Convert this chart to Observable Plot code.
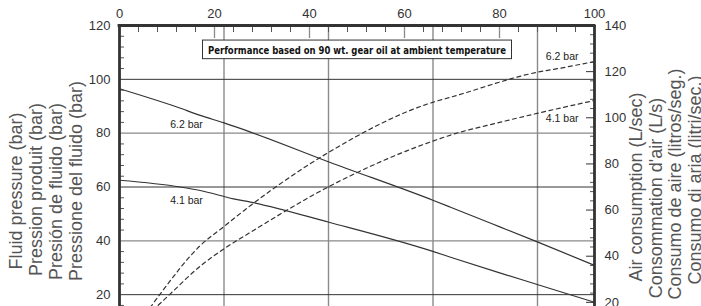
<!DOCTYPE html>
<html>
<head>
<meta charset="utf-8">
<script src="https://cdn.jsdelivr.net/npm/d3@7"></script>
<script src="https://cdn.jsdelivr.net/npm/@observablehq/plot@0.6"></script>
<style>
  html, body { margin: 0; padding: 0; background: #fff; }
  #chart { width: 701px; height: 306px; overflow: hidden; }
</style>
</head>
<body>
<div id="chart"></div>
<script>
// ---------- data ----------
const flowTicks = [0, 20, 40, 60, 80, 100];
const pressureTicks = [20, 40, 60, 80, 100, 120];
const airTicks = [20, 40, 60, 80, 100, 120, 140];
const gridFlow = [22, 44, 66, 88];
const pressureGrid = [20, 40, 60, 80, 100];

// fluid pressure (bar) vs flow
const fluid62 = [[0, 96.5], [12.1, 89.7], [17, 86.6], [22, 83.8], [27.6, 80.4], [44.1, 69.3], [66.1, 55.0], [69.7, 52.5], [80.2, 45.1], [88.1, 39.5], [100, 30.9]];
const fluid41 = [[0, 62.5], [12.8, 60], [17, 58.7], [24, 55.6], [27.6, 54.4], [44.1, 46.9], [66.1, 36.0], [69.7, 33.9], [80.2, 28], [88.1, 23.7], [100, 17.2]];
// air consumption (L/sec) vs flow
const air62 = [[5.5, 15], [8.6, 23.7], [17, 44.6], [22, 52.9], [27.6, 62], [44.1, 85.1], [66.1, 106.8], [69.7, 108.9], [88.1, 119.8], [92.8, 121.5], [100, 124.4]];
const air41 = [[7, 16.5], [10.7, 23.7], [17, 35.7], [22, 43.2], [27.6, 50.4], [44.1, 70.2], [66.1, 90], [69.7, 92.5], [80.2, 98.1], [88.1, 102], [100, 107.5]];

const fluidLabels = [["6.2 bar", 14.1, 83.3], ["4.1 bar", 14.1, 55.0]];
const airLabels = [["6.2 bar", 93.2, 126.6], ["4.1 bar", 93.2, 99.6]];

const note = "Performance based on 90 wt. gear oil at ambient temperature";
const leftTitles = ["Fluid pressure (bar)", "Pression produit (bar)", "Presión de fluido (bar)", "Pressione del fluido (bar)"];
const rightTitles = ["Air consumption (L/sec)", "Consommation d'air (L/s)", "Consumo de aire (litros/seg.)", "Consumo di aria (litri/sec.)"];

// ---------- helpers ----------
const leftMax = 120, rightMax = 140;
const toLeft = v => v * leftMax / rightMax;
const range = (a, b, s) => d3.range(a, b + 1e-9, s);
const leftMinor = range(4, 116, 4).filter(d => d % 20 !== 0);
const rightMinor = range(24, 136, 4).filter(d => d % 20 !== 0).map(toLeft);
const topMinor = range(4, 96, 4).filter(d => d % 20 !== 0);

const titleFont = "'Liberation Sans', Arial, Helvetica, sans-serif";
const leftTitleDx = [-103, -83, -63, -43];
const leftTitleDy = [25, 23.5, 25.5, 15];
const rightTitleDx = [42, 61.5, 81, 100.5];
const rightTitleDy = [21, 32, 18, 14];

const darkGrid = pressureGrid.filter(d => (d / 20) % 2 === 1);
const lightGrid = pressureGrid.filter(d => (d / 20) % 2 === 0);

const svg = Plot.plot({
  width: 701,
  height: 306,
  marginTop: 25,
  marginLeft: 119,
  marginRight: 107,
  marginBottom: 0,
  style: { fontFamily: titleFont, fontSize: "13px", color: "#333", background: "#fff", overflow: "hidden" },
  x: { domain: [0, 100] },
  y: { domain: [0, 120], range: [348, 25] },
  marks: [
    // grid
    Plot.ruleX(gridFlow, { stroke: "#8a8a8a", strokeWidth: 1.4 }),
    Plot.ruleY(lightGrid, { stroke: "#8a8a8a", strokeWidth: 1.4 }),
    Plot.ruleY(darkGrid, { stroke: "#333", strokeWidth: 1 }),
    // inner ticks
    Plot.axisY({ ticks: leftMinor, anchor: "left", tickSize: -5, fill: "none", stroke: "#555", label: null }),
    Plot.axisY({ ticks: rightMinor, anchor: "right", tickSize: -5, fill: "none", stroke: "#555", label: null }),
    Plot.axisY({ ticks: airTicks.map(toLeft), anchor: "right", tickSize: -9, fill: "none", stroke: "#333", label: null }),
    Plot.axisX({ ticks: topMinor, anchor: "top", tickSize: -6, fill: "none", stroke: "#555", label: null }),
    Plot.axisX({ ticks: flowTicks.slice(1, -1), anchor: "top", tickSize: -12, fill: "none", stroke: "#8a8a8a", strokeWidth: 1.3, label: null }),
    // curves
    Plot.line(fluid62, { x: d => d[0], y: d => d[1], stroke: "#333", strokeWidth: 1.2, curve: "monotone-x" }),
    Plot.line(fluid41, { x: d => d[0], y: d => d[1], stroke: "#333", strokeWidth: 1.2, curve: "monotone-x" }),
    Plot.line(air62, { x: d => d[0], y: d => toLeft(d[1]), stroke: "#333", strokeWidth: 1.2, strokeDasharray: "4,3.5", curve: "monotone-x" }),
    Plot.line(air41, { x: d => d[0], y: d => toLeft(d[1]), stroke: "#333", strokeWidth: 1.2, strokeDasharray: "4,3.5", curve: "monotone-x" }),
    // curve labels
    Plot.text(fluidLabels, { x: d => d[1], y: d => d[2], text: d => d[0], fontSize: 10.5, fill: "#222" }),
    Plot.text(airLabels, { x: d => d[1], y: d => toLeft(d[2]), text: d => d[0], fontSize: 10.5, fill: "#222" }),
    // frame borders
    Plot.ruleX([0, 100], { stroke: "#333", strokeWidth: 2.8 }),
    Plot.ruleY([120], { stroke: "#333", strokeWidth: 2.8, strokeLinecap: "square" }),
    // note
    Plot.text([note], { frameAnchor: "top", dy: 21, text: d => d, fontSize: 10.5, fontWeight: "bold",
      fontFamily: "'Liberation Sans Narrow', 'DejaVu Sans Condensed', 'Liberation Sans', sans-serif", fill: "#111", className: "note" }),
    // axis labels
    Plot.axisX({ ticks: flowTicks, anchor: "top", tickSize: 0, tickPadding: 8, label: null }),
    Plot.axisY({ ticks: pressureTicks, anchor: "left", tickSize: 0, tickPadding: 9, label: null }),
    Plot.axisY({ ticks: airTicks.map(toLeft), anchor: "right", tickSize: 0, tickPadding: 10,
      tickFormat: d => Math.round(d * rightMax / leftMax), label: null }),
    // axis titles
    ...leftTitles.map((t, i) => Plot.text([t], { frameAnchor: "left", text: d => d, rotate: -90,
      textAnchor: "middle", lineAnchor: "middle",
      dx: leftTitleDx[i], dy: leftTitleDy[i], fontSize: 18, fill: "#555" })),
    ...rightTitles.map((t, i) => Plot.text([t], { frameAnchor: "right", text: d => d, rotate: -90,
      textAnchor: "middle", lineAnchor: "middle",
      dx: rightTitleDx[i], dy: rightTitleDy[i], fontSize: 18, fill: "#555" }))
  ]
});

document.getElementById("chart").append(svg);

// box behind the note
const noteNode = svg.querySelector(".note text");
if (noteNode) {
  noteNode.setAttribute("textLength", 298);
  noteNode.setAttribute("lengthAdjust", "spacingAndGlyphs");
  const bb = noteNode.getBBox();
  const rect = document.createElementNS("http://www.w3.org/2000/svg", "rect");
  const tr = noteNode.getAttribute("transform");
  if (tr) rect.setAttribute("transform", tr);
  rect.setAttribute("x", bb.x - 5.5);
  rect.setAttribute("width", bb.width + 11);
  rect.setAttribute("y", bb.y - 3.9);
  rect.setAttribute("height", bb.height + 6.6);
  rect.setAttribute("fill", "#fff");
  rect.setAttribute("stroke", "#333");
  rect.setAttribute("stroke-width", 1);
  noteNode.parentNode.insertBefore(rect, noteNode);
}
</script>
</body>
</html>
